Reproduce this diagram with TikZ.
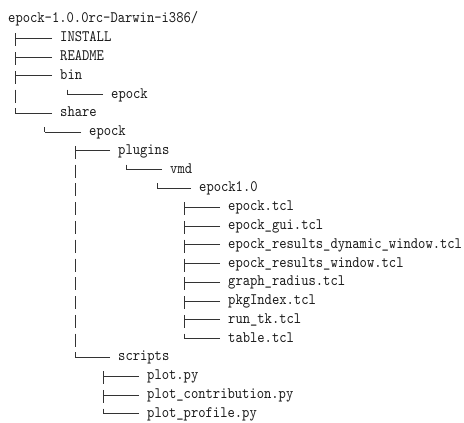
\documentclass[tikz,border=0pt]{standalone}
\usepackage{fontspec}
\usetikzlibrary{positioning}
\newfontfamily\treefont{lmmono10-regular}[Extension=.otf, FakeStretch=0.87]
\tikzset{
  entry/.style={
    anchor=west, inner sep=0pt, text height=10pt, text depth=3pt,
    font=\treefont\fontsize{16}{18}\selectfont, text=black!90,
  },
  twig/.style={line width=0.8pt, black!80},
  trunk/.style={twig, dash pattern=on 13pt off 5.77pt},
}
\def\dy{18.77}

\begin{document}
\begin{tikzpicture}[x=1pt, y=-1pt]
\useasboundingbox (0,0) rectangle (464,423);

% =====================================================================
%  ENTRIES
% =====================================================================

% package root
\node[entry] (root) at (8, 19.5) {epock-1.0.0rc-Darwin-i386/};

% first level
\node[entry] (install) at (60, {19.5+1*\dy}) {INSTALL};
\node[entry] (readme)  at (60, {19.5+2*\dy}) {README};
\node[entry] (bin)     at (60, {19.5+3*\dy}) {bin};
\node[entry] (binexe)  at (111, {19.5+4*\dy}) {epock};
\node[entry] (share)   at (60, {19.5+5*\dy}) {share};

% share/epock
\node[entry] (shep)    at (89, {19.5+6*\dy}) {epock};
\node[entry] (plugins) at (118, {19.5+7*\dy}) {plugins};
\node[entry] (vmd)     at (170, {19.5+8*\dy}) {vmd};
\node[entry] (epone)   at (199, {19.5+9*\dy}) {epock1.0};

% tcl files
\foreach \n/\t/\k in {tclmain/epock.tcl/10, tclgui/epock\_gui.tcl/11,
    tcldyn/epock\_results\_dynamic\_window.tcl/12,
    tclres/epock\_results\_window.tcl/13, tclrad/graph\_radius.tcl/14,
    tclidx/pkgIndex.tcl/15, tclrun/run\_tk.tcl/16, tcltab/table.tcl/17} {
  \node[entry] (\n) at (228, {19.5+\k*\dy}) {\t};
}

% scripts
\node[entry] (scripts) at (118, {19.5+18*\dy}) {scripts};
\node[entry] (pyplot)  at (147, {19.5+19*\dy}) {plot.py};
\node[entry] (pycont)  at (147, {19.5+20*\dy}) {plot\_contribution.py};
\node[entry] (pyprof)  at (147, {19.5+21*\dy}) {plot\_profile.py};

% =====================================================================
%  TREE LINES
% =====================================================================

% trunk tops, one per parent
\coordinate (root-t)    at ([xshift=7pt, yshift=-13.77pt]root.west);
\coordinate (bin-t)     at ([xshift=7pt, yshift=-13.77pt]bin.west);
\coordinate (share-t)   at ([xshift=-15.5pt, yshift=-13.77pt]share.west);
\coordinate (shep-t)    at ([xshift=-14pt, yshift=-13.77pt]shep.west);
\coordinate (plugins-t) at ([xshift=8.5pt, yshift=-13.77pt]plugins.west);
\coordinate (vmd-t)     at ([xshift=-13pt, yshift=-13.77pt]vmd.west);
\coordinate (epone-t)   at ([xshift=-15pt, yshift=-13.77pt]epone.west);
\coordinate (scripts-t) at ([xshift=-14.5pt, yshift=-13.77pt]scripts.west);

% branches
\foreach \p/\c in {root/install, root/readme, root/bin, root/share,
    bin/binexe, share/shep, shep/plugins, shep/scripts,
    plugins/vmd, vmd/epone,
    epone/tclmain, epone/tclgui, epone/tcldyn, epone/tclres,
    epone/tclrad, epone/tclidx, epone/tclrun, epone/tcltab,
    scripts/pyplot, scripts/pycont, scripts/pyprof} {
  \draw[twig] ([xshift=-8pt]\c.west) -- (\p-t |- \c.west);
}

% trunks down to the last child
\foreach \p/\c in {root/share, bin/binexe, share/shep, shep/scripts,
    plugins/vmd, vmd/epone, epone/tcltab, scripts/pyprof} {
  \draw[trunk] (\p-t) -- (\p-t |- \c.west);
}

\end{tikzpicture}
\end{document}
